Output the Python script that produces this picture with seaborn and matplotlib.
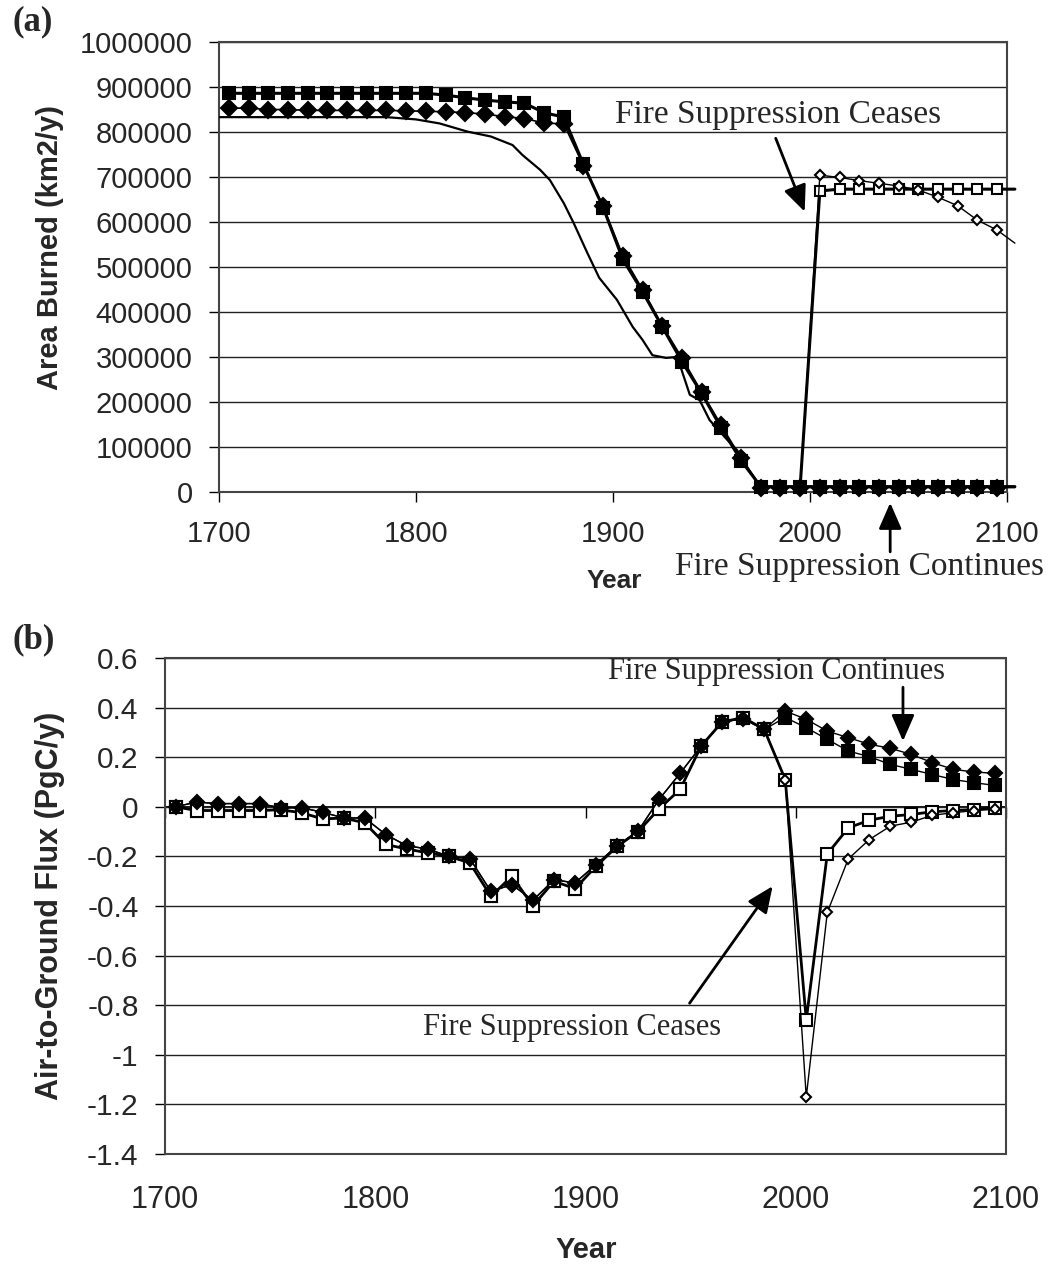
import matplotlib
matplotlib.use("Agg")
import matplotlib.pyplot as plt
import pandas as pd
import seaborn as sns

# ---------------- data ----------------
years_hist = [1705, 1715, 1725, 1735, 1745, 1755, 1765, 1775, 1785, 1795,
              1805, 1815, 1825, 1835, 1845, 1855, 1865, 1875, 1885, 1895,
              1905, 1915, 1925, 1935, 1945, 1955, 1965, 1975, 1985]
years_future = [1995, 2005, 2015, 2025, 2035, 2045, 2055, 2065, 2075, 2085, 2095]
line_end_year = 2104  # Excel line continues slightly past the frame

# Panel (a): area burned (km2/y)
a_hist_sq = [886000, 886000, 886000, 886000, 886000, 886000, 886000, 886000, 886000, 886000,
             886000, 882000, 876000, 871000, 867000, 864000, 843000, 833000, 728000, 632000,
             517000, 445000, 367000, 290000, 219000, 142000, 70000, 12000, 12000]
a_hist_di = [853000, 853000, 850000, 850000, 848000, 848000, 848000, 848000, 848000, 847000,
             846000, 845000, 843000, 840000, 834000, 830000, 820000, 818000, 725000, 635000,
             525000, 450000, 370000, 298000, 222000, 148000, 75000, 10000, 10000]
a_cont_sq = [12000, 12000, 12000, 12000, 12000, 12000, 12000, 12000, 12000, 12000, 12000, 12000]
a_cont_di = [10000, 10000, 10000, 10000, 10000, 10000, 10000, 10000, 10000, 10000, 10000, 10000]
a_cease_sq = [12000, 669000, 673000, 673000, 673000, 673000, 673000, 673000, 673000, 673000, 673000, 673000]
a_cease_di = [10000, 704000, 699000, 692000, 686000, 680000, 671000, 655000, 636000, 604000, 582000, 553000]

obs_years = [1700, 1785, 1800, 1812, 1826, 1838, 1849, 1854, 1863, 1868, 1875, 1880, 1887, 1893,
             1902, 1910, 1915, 1920, 1927, 1932, 1934, 1939, 1944, 1949, 1958, 1963, 1968, 1975]
obs_area = [833000, 833000, 828000, 819000, 801000, 790000, 771000, 749000, 716000, 693000,
            642000, 598000, 531000, 476000, 427000, 367000, 338000, 304000, 298000, 300000,
            282000, 216000, 204000, 160000, 116000, 93000, 56000, 11000]

# Panel (b): air-to-ground flux (PgC/y)
b_hist_sq = [0.0, -0.015, -0.015, -0.015, -0.015, -0.012, -0.024, -0.049, -0.045, -0.065,
             -0.152, -0.17, -0.186, -0.2, -0.226, -0.361, -0.28, -0.40, -0.30, -0.33,
             -0.24, -0.16, -0.10, -0.008, 0.07, 0.245, 0.342, 0.36, 0.312]
b_hist_di = [0.0, 0.019, 0.013, 0.013, 0.013, -0.004, -0.004, -0.022, -0.045, -0.045,
             -0.112, -0.157, -0.17, -0.2, -0.209, -0.341, -0.314, -0.377, -0.294, -0.307,
             -0.233, -0.157, -0.098, 0.03, 0.135, 0.245, 0.342, 0.355, 0.312]
b_cont_sq = [0.36, 0.319, 0.272, 0.225, 0.202, 0.171, 0.151, 0.13, 0.11, 0.097, 0.086]
b_cont_di = [0.386, 0.353, 0.305, 0.279, 0.252, 0.236, 0.211, 0.178, 0.151, 0.14, 0.135]
b_cease_sq = [0.11, -0.859, -0.19, -0.085, -0.054, -0.038, -0.031, -0.02, -0.015, -0.011, -0.004]
b_cease_di = [0.11, -1.17, -0.426, -0.21, -0.132, -0.078, -0.062, -0.034, -0.024, -0.015, -0.01]

x_ticks = [1700, 1800, 1900, 2000, 2100]
a_y_ticks = [0, 100000, 200000, 300000, 400000, 500000, 600000, 700000, 800000, 900000, 1000000]
b_y_ticks = [-1.4, -1.2, -1.0, -0.8, -0.6, -0.4, -0.2, 0.0, 0.2, 0.4, 0.6]
b_y_labels = ["-1.4", "-1.2", "-1", "-0.8", "-0.6", "-0.4", "-0.2", "0", "0.2", "0.4", "0.6"]

# ---------------- style ----------------
sns.set_theme(style="white")
plt.rcParams["font.family"] = ["Liberation Sans", "DejaVu Sans"]
SERIF = ["Liberation Serif", "DejaVu Serif"]

W, H = 1048, 1265
fig = plt.figure(figsize=(W / 100, H / 100), dpi=100)
fig.patch.set_facecolor("white")


def fx(px):
    return px / W


def fy(py):
    return 1 - py / H


ax_a = fig.add_axes([fx(219), fy(492), (1007 - 219) / W, (492 - 42) / H])
ax_b = fig.add_axes([fx(165), fy(1154), (1006 - 165) / W, (1154 - 658) / H])


def draw(ax, xs, ys, marker, ms, filled, lw, mew=1.5, markevery=None, z=3):
    df = pd.DataFrame({"year": xs, "value": ys})
    kw = dict(marker=marker, markersize=ms,
              markerfacecolor="black" if filled else "white",
              markeredgecolor="black", markeredgewidth=mew,
              color="black", linewidth=lw, clip_on=False, zorder=z)
    if markevery is not None:
        kw["markevery"] = markevery
    sns.lineplot(data=df, x="year", y="value", ax=ax, errorbar=None, sort=False, **kw)


# ----- panel (a) -----
yrs_fut_ext = years_future + [line_end_year]
n_fut = len(years_future)
draw(ax_a, yrs_fut_ext, a_cease_sq, "s", 7, False, 2.2, markevery=slice(1, n_fut), z=3)
draw(ax_a, yrs_fut_ext, a_cease_di, "D", 5.5, False, 1.0, markevery=slice(1, n_fut), z=3)
sns.lineplot(x=obs_years, y=obs_area, ax=ax_a, color="black", linewidth=1.6,
             errorbar=None, sort=False, zorder=3)
draw(ax_a, years_hist + yrs_fut_ext, a_hist_sq + a_cont_sq, "s", 9, True, 2.2,
     markevery=slice(0, len(years_hist) + n_fut), z=4)
draw(ax_a, years_hist + yrs_fut_ext, a_hist_di + a_cont_di, "D", 8, True, 1.2,
     markevery=slice(0, len(years_hist) + n_fut), z=5)

# ----- panel (b) -----
draw(ax_b, years_hist + years_future, b_hist_sq + b_cont_sq, "s", 8.5, True, 1.0, z=3)
draw(ax_b, years_hist + years_future, b_hist_sq + b_cease_sq, "s", 8.5, False, 2.0, z=4)
draw(ax_b, years_hist + years_future, b_hist_di + b_cease_di, "D", 5.5, False, 1.0, z=4)
draw(ax_b, years_hist + years_future, b_hist_di + b_cont_di, "D", 7.5, True, 1.0, z=5)

# ---------------- axes formatting ----------------
for ax in (ax_a, ax_b):
    ax.set_xlabel("")
    ax.set_ylabel("")
    ax.set_xlim(1700, 2100)
    ax.set_axisbelow(True)
    ax.grid(axis="y", color="#222222", linewidth=1.0)
    ax.grid(axis="x", visible=False)
    for s in ax.spines.values():
        s.set_visible(True)
        s.set_color("#444444")
        s.set_linewidth(1.5)
        s.set_linestyle((0, (1, 1)))
    ax.tick_params(axis="y", left=True, direction="out", length=7, width=1,
                   color="black", pad=12, labelsize=21)

ax_a.set_ylim(0, 1000000)
ax_a.set_yticks(a_y_ticks)
ax_a.set_yticklabels([str(t) for t in a_y_ticks])
ax_a.set_xticks(x_ticks)
ax_a.set_xticklabels([str(t) for t in x_ticks])
ax_a.tick_params(axis="x", bottom=True, direction="out", length=7, width=1,
                 color="black", pad=13, labelsize=21)

ax_b.set_ylim(-1.4, 0.6)
ax_b.set_yticks(b_y_ticks)
ax_b.set_yticklabels(b_y_labels)
ax_b.set_xticks(x_ticks)
ax_b.set_xticklabels([str(t) for t in x_ticks])
ax_b.tick_params(axis="x", bottom=True, length=0, pad=22, labelsize=22)
ax_b.tick_params(axis="y", labelsize=21.5)

# category axis of panel (b) crosses at y = 0
sec = ax_b.secondary_xaxis((0 - (-1.4)) / 2.0)
sec.set_alignment("bottom")
sec.set_xticks(x_ticks)
sec.tick_params(axis="x", bottom=True, top=False, direction="out", length=8, width=1,
                color="black", labelbottom=False, labeltop=False)
sec.spines["bottom"].set_color("black")
sec.spines["bottom"].set_linewidth(1.3)

# ---------------- labels ----------------
fig.text(fx(50), fy(247), "Area Burned (km2/y)", rotation=90, ha="center", va="center",
         fontsize=21, fontweight="bold")
fig.text(fx(50), fy(906), "Air-to-Ground Flux (PgC/y)", rotation=90, ha="center", va="center",
         fontsize=22, fontweight="bold")
fig.text(fx(614), fy(588), "Year", ha="center", va="baseline", fontsize=19, fontweight="bold")
fig.text(fx(586), fy(1258), "Year", ha="center", va="baseline", fontsize=21, fontweight="bold")
fig.text(fx(12), fy(22), "(a)", ha="left", va="center", fontsize=25, fontweight="bold",
         family=SERIF)
fig.text(fx(12), fy(640), "(b)", ha="left", va="center", fontsize=25, fontweight="bold",
         family=SERIF)

# ---------------- annotations ----------------
arrow = dict(arrowstyle="-|>,head_length=0.8,head_width=0.35", lw=2, color="black",
             shrinkA=0, shrinkB=0, mutation_scale=20)

ax_a.text(1901, 820000, "Fire Suppression Ceases", ha="left", va="baseline",
          fontsize=24, family=SERIF)
ax_a.annotate("", xy=(1997.3, 623000), xytext=(1982.6, 786000), arrowprops=arrow,
              annotation_clip=False)
ax_a.text(1931.5, -184000, "Fire Suppression Continues", ha="left", va="baseline",
          fontsize=24, family=SERIF)
ax_a.annotate("", xy=(2040.7, -24000), xytext=(2040.7, -133000), arrowprops=arrow,
              annotation_clip=False)

ax_b.text(1910.6, 0.514, "Fire Suppression Continues", ha="left", va="baseline",
          fontsize=22, family=SERIF)
ax_b.annotate("", xy=(2051, 0.265), xytext=(2051, 0.482), arrowprops=arrow,
              annotation_clip=False)
ax_b.text(1822.6, -0.92, "Fire Suppression Ceases", ha="left", va="baseline",
          fontsize=22, family=SERIF)
ax_b.annotate("", xy=(1989, -0.32), xytext=(1949.5, -0.792), arrowprops=arrow,
              annotation_clip=False)

fig.savefig("out.png", dpi=100, facecolor="white")
